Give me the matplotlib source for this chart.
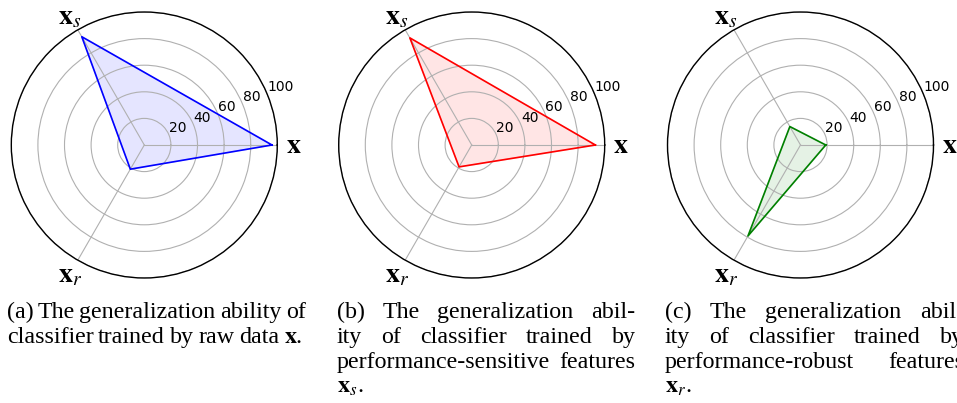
import numpy as np
import matplotlib
matplotlib.use("Agg")
import matplotlib.pyplot as plt

plt.rcParams['mathtext.fontset'] = 'stix'

# 三个特征方向
axis_labels = [r'$\mathbf{x}$', r'$\mathbf{x}_s$', r'$\mathbf{x}_r$']
axis_angles = [0, 120, 240]
r_ticks = [20, 40, 60, 80, 100]

# 各子图的数值 (x, x_s, x_r)
raw_vals = [96, 94, 21]
sens_vals = [93, 93, 19]
robust_vals = [19, 16, 79]

line_colors = ['blue', 'red', 'green']

captions = [
    ["(a) The generalization ability of",
     r"classifier trained by raw data $\mathbf{x}$."],
    ["(b) The generalization abil-",
     "ity of classifier trained by",
     "performance-sensitive features",
     r"$\mathbf{x}_s$."],
    ["(c) The generalization abil-",
     "ity of classifier trained by",
     "performance-robust features",
     r"$\mathbf{x}_r$."],
]

W, H = 957, 403
fig = plt.figure(figsize=(W / 100, H / 100), dpi=100)

centers_x = [144.3, 471.7, 800.5]
cy = 145
rad = 133

all_vals = [raw_vals, sens_vals, robust_vals]
theta = np.deg2rad(axis_angles + [axis_angles[0]])

for i in range(3):
    ax = fig.add_axes([(centers_x[i] - rad) / W, (H - cy - rad) / H,
                       2 * rad / W, 2 * rad / H], projection='polar')
    vals = all_vals[i] + [all_vals[i][0]]
    ax.plot(theta, vals, color=line_colors[i], linewidth=1.2)
    ax.fill(theta, vals, color=line_colors[i], alpha=0.1)
    ax.set_ylim(0, 100)
    ax.set_yticks(r_ticks)
    ax.set_yticklabels([str(t) for t in r_ticks], fontsize=10)
    ax.set_rlabel_position(22.5)
    ax.set_thetagrids(axis_angles, axis_labels, fontsize=20)
    ax.tick_params(axis='x', pad=1)
    ax.grid(True, color='#b0b0b0', linewidth=0.8)
    ax.spines['polar'].set_linewidth(1.0)

# 标题, 两端对齐 (最后一行左对齐)
renderer = fig.canvas.get_renderer()
cap_x0 = [6.7, 336.7, 665]
cap_w = 299
base_y = [318, 343, 368, 392.5]
fs = 17.3

for i, lines in enumerate(captions):
    for j, line in enumerate(lines):
        words = line.split(' ')
        texts = [fig.text(0, 1 - base_y[j] / H, w, fontsize=fs,
                          family='Liberation Serif', va='baseline')
                 for w in words]
        widths = [t.get_window_extent(renderer).width for t in texts]
        last = (j == len(lines) - 1)
        if last or len(words) == 1:
            gap = fs * 100 / 72 * 0.2
        else:
            gap = (cap_w - sum(widths)) / (len(words) - 1)
        x = cap_x0[i]
        for t, w in zip(texts, widths):
            t.set_x(x / W)
            x += w + gap

fig.savefig('out.png', dpi=100)
